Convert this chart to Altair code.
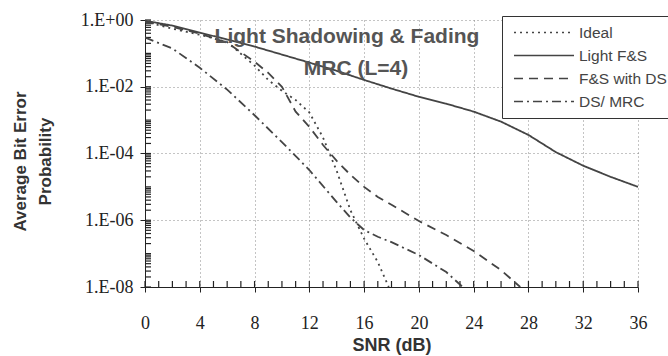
import altair as alt
import pandas as pd

# ---- data ----
snr_ideal = [0, 2, 4, 6, 8, 9, 10, 11, 12, 13, 14, 15, 16, 17, 17.8]
ber_ideal = [0.89, 0.55, 0.36, 0.22, 0.043, 0.016, 7.6e-3, 4.0e-3, 1.7e-3, 3.0e-4,
             3.0e-5, 2.0e-6, 2.8e-7, 5.6e-8, 1.0e-8]

snr_light = [0, 2, 4, 6, 8, 10, 12, 14, 16, 18, 20, 22, 24, 26, 28, 30, 32, 34, 36]
ber_light = [0.95, 0.68, 0.42, 0.26, 0.16, 0.092, 0.053, 0.030, 0.016, 8.8e-3, 5.0e-3,
             3.1e-3, 1.8e-3, 9.0e-4, 3.6e-4, 1.1e-4, 4.3e-5, 2.0e-5, 1.0e-5]

snr_ds = [0, 2, 4, 6, 8, 9, 10, 11, 12, 13, 14, 15, 16, 17, 18, 20, 22, 24, 26, 27.4]
ber_ds = [0.90, 0.62, 0.39, 0.21, 0.056, 0.026, 0.010, 1.8e-3, 6.3e-4, 1.8e-4, 6.0e-5,
          2.3e-5, 1.0e-5, 5.0e-6, 2.9e-6, 9.5e-7, 3.6e-7, 1.2e-7, 3.2e-8, 1.0e-8]

snr_mrc = [0, 2, 4, 6, 8, 10, 12, 14, 15, 16, 17, 18, 20, 22, 23.2]
ber_mrc = [0.30, 0.14, 0.037, 8.2e-3, 1.4e-3, 2.2e-4, 3.2e-5, 3.5e-6, 1.2e-6, 5.1e-7,
           3.2e-7, 2.2e-7, 9.1e-8, 2.8e-8, 1.0e-8]

series_names = ["Ideal", "Light F&S", "F&S with DS", "DS/ MRC"]
series_dash = [[2, 4], [1, 0], [9, 6], [9, 4, 2, 4]]

x_major = [0, 4, 8, 12, 16, 20, 24, 28, 32, 36]
x_minor = list(range(0, 37))
y_major = [1, 1e-2, 1e-4, 1e-6, 1e-8]
y_minor = [m * 10.0 ** e for e in range(-8, 0) for m in range(1, 10)] + [1.0]

title_lines = ["Light Shadowing & Fading", "MRC (L=4)"]

# ---- build tables ----
rows = []
for name, xs, ys in zip(series_names,
                        [snr_ideal, snr_light, snr_ds, snr_mrc],
                        [ber_ideal, ber_light, ber_ds, ber_mrc]):
    for x, y in zip(xs, ys):
        rows.append({"series": name, "snr": x, "ber": y})
df = pd.DataFrame(rows)
xminor_df = pd.DataFrame({"tx": x_minor})
yminor_df = pd.DataFrame({"ty": y_minor})

SERIF = "Liberation Serif"
SANS = "Liberation Sans"
INK = "#444444"

x_scale = alt.Scale(domain=[0, 36], nice=False, zero=False)
y_scale = alt.Scale(type="log", domain=[1e-8, 1], nice=False)

label_expr = ("round(log(datum.value)/LN10) == 0 ? '1.E+00' : "
              "'1.E-0' + abs(round(log(datum.value)/LN10))")

x_axis = alt.Axis(values=x_major, title="SNR (dB)", grid=True,
                  gridDash=[1, 3], gridColor="#888", gridOpacity=1,
                  domainColor="#222", tickColor="#222", tickSize=5,
                  labelFont=SERIF, labelFontSize=18, labelColor="#222",
                  labelPadding=22, labelFlush=False,
                  titleFont=SANS, titleFontSize=18, titleFontWeight="bold",
                  titleColor="#333", titlePadding=4)
y_axis = alt.Axis(values=y_major, labelExpr=label_expr,
                  title=["Average Bit Error", "Probability"], grid=True,
                  gridDash=[1, 3], gridColor="#888", gridOpacity=1,
                  domainColor="#222", tickColor="#222", tickSize=5,
                  labelFont=SERIF, labelFontSize=18, labelColor="#222",
                  labelPadding=7, labelFlush=False,
                  titleFont=SANS, titleFontSize=17, titleFontWeight="bold",
                  titleColor="#333", titlePadding=26, titleLineHeight=25,
                  titleY=141)

# small inner tick marks along both axes (minor divisions)
xticks = alt.Chart(xminor_df).mark_rule(color="#222", strokeWidth=1.2).encode(
    x=alt.X("tx:Q", scale=x_scale, axis=x_axis),
    y=alt.value(261), y2=alt.value(267))

yticks = alt.Chart(yminor_df).mark_rule(color="#222", strokeWidth=1.2).encode(
    y=alt.Y("ty:Q", scale=y_scale, axis=y_axis),
    x=alt.value(0), x2=alt.value(6))

lines = alt.Chart(df).mark_line(color=INK, strokeWidth=1.8, clip=True).encode(
    x=alt.X("snr:Q", scale=x_scale, axis=x_axis),
    y=alt.Y("ber:Q", scale=y_scale, axis=y_axis),
    strokeDash=alt.StrokeDash(
        "series:N",
        scale=alt.Scale(domain=series_names, range=series_dash),
        sort=series_names,
        legend=alt.Legend(orient="none", legendX=357, legendY=-4, title=None,
                          symbolType="stroke", symbolSize=3600,
                          symbolStrokeWidth=1.5, symbolStrokeColor=INK,
                          clipHeight=23, rowPadding=0, padding=5,
                          symbolOffset=6, labelOffset=4,
                          labelFont=SANS, labelFontSize=15.5, labelColor=INK,
                          labelLimit=300, strokeColor="#333", fillColor="white")),
    detail="series:N",
)

t_df = pd.DataFrame({"t": [0]})
title1 = alt.Chart(t_df).mark_text(
    text=title_lines[0], font=SANS, fontSize=21, fontWeight="bold",
    color="#555", align="center", baseline="alphabetic").encode(
    x=alt.value(202), y=alt.value(23))
title2 = alt.Chart(t_df).mark_text(
    text=title_lines[1], font=SANS, fontSize=21, fontWeight="bold",
    color="#555", align="center", baseline="alphabetic").encode(
    x=alt.value(211), y=alt.value(55))

chart = alt.layer(xticks, yticks, lines, title1, title2).properties(
    width=493, height=267,
    padding={"left": 145, "top": 20, "right": 30, "bottom": 69},
    autosize=alt.AutoSizeParams(type="none"),
    background="white",
).configure_view(stroke=None)

chart.save("out.html", embed_options={"renderer": "svg", "actions": False})
